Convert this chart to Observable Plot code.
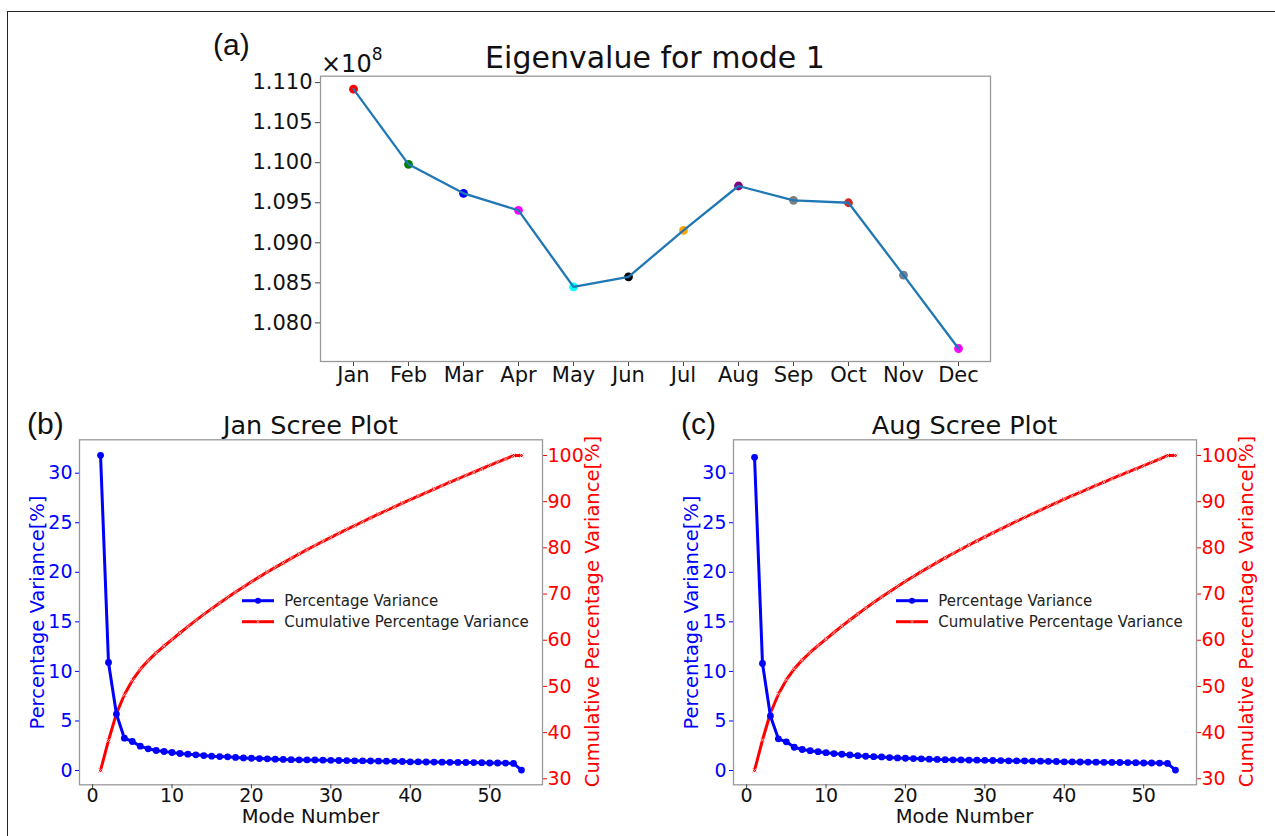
<!DOCTYPE html>
<html><head><meta charset="utf-8">
<script src="https://cdn.jsdelivr.net/npm/d3@7"></script>
<script src="https://cdn.jsdelivr.net/npm/@observablehq/plot@0.6"></script>
<style>
html,body{margin:0;padding:0;background:#fff;overflow:hidden;}
#root{position:relative;width:1275px;height:836px;overflow:hidden;background:#fff;font-family:"DejaVu Sans",sans-serif;}
#border{position:absolute;left:7px;top:11px;width:1400px;height:1000px;border:1.5px solid #222;box-sizing:border-box;}
</style></head><body><div id="root"><div id="border"></div></div>
<script>
// ---------------- data ----------------
const months = ["Jan","Feb","Mar","Apr","May","Jun","Jul","Aug","Sep","Oct","Nov","Dec"];
const eigenvalues = [1.10918e8,1.09980e8,1.09618e8,1.09405e8,1.08450e8,1.08575e8,1.09155e8,1.09709e8,1.09530e8,1.09500e8,1.08596e8,1.07680e8];
const monthColors = ["red","green","blue","magenta","cyan","black","orange","purple","gray","#d62728","slategray","magenta"];
const eigenTicks = [1.080e8,1.085e8,1.090e8,1.095e8,1.100e8,1.105e8,1.110e8];

const modes = [1,2,3,4,5,6,7,8,9,10,11,12,13,14,15,16,17,18,19,20,21,22,23,24,25,26,27,28,29,30,31,32,33,34,35,36,37,38,39,40,41,42,43,44,45,46,47,48,49,50,51,52,53,54];
const janPct = [31.8,10.9,5.7,3.26,2.93,2.46,2.19,2.02,1.92,1.82,1.72,1.65,1.58,1.51,1.45,1.41,1.38,1.32,1.27,1.24,1.21,1.18,1.15,1.12,1.10,1.08,1.07,1.06,1.04,1.03,1.01,1.00,0.98,0.97,0.96,0.95,0.94,0.93,0.91,0.88,0.87,0.86,0.85,0.84,0.83,0.82,0.81,0.80,0.79,0.76,0.76,0.75,0.72,0.05];
const janCum = [31.8,38.3,44.1,48.2,51.3,53.7,55.6,57.25,58.75,60.15,61.57,62.95,64.29,65.59,66.85,68.07,69.26,70.42,71.55,72.65,73.72,74.76,75.77,76.76,77.73,78.68,79.61,80.52,81.41,82.28,83.14,83.99,84.83,85.66,86.48,87.29,88.09,88.88,89.67,90.45,91.22,91.98,92.74,93.49,94.23,94.96,95.69,96.41,97.13,97.84,98.55,99.25,100.0,100.0];
const augPct = [31.6,10.8,5.5,3.2,2.9,2.35,2.12,2.0,1.9,1.8,1.71,1.64,1.57,1.5,1.44,1.4,1.37,1.31,1.27,1.24,1.21,1.18,1.15,1.12,1.10,1.08,1.07,1.05,1.04,1.02,1.01,1.00,0.98,0.97,0.96,0.95,0.94,0.93,0.91,0.88,0.87,0.86,0.85,0.84,0.83,0.82,0.81,0.80,0.79,0.76,0.76,0.75,0.72,0.05];
const augCum = [31.8,38.4,44.2,48.3,51.4,53.8,55.7,57.35,58.85,60.25,61.67,63.05,64.39,65.69,66.95,68.17,69.36,70.52,71.65,72.75,73.82,74.86,75.87,76.86,77.83,78.78,79.71,80.62,81.51,82.38,83.24,84.09,84.93,85.76,86.58,87.39,88.19,88.98,89.76,90.53,91.29,92.04,92.79,93.53,94.26,94.98,95.70,96.41,97.12,97.82,98.52,99.22,100.0,100.0];
const modeTicks = [0,10,20,30,40,50];
const pctTicks = [0,5,10,15,20,25,30];
const cumTicks = [30,40,50,60,70,80,90,100];

const FONT = "DejaVu Sans";
const root = document.getElementById("root");
function place(el, left, topPx) {
  el.style.position = "absolute";
  el.style.left = left + "px";
  el.style.top = topPx + "px";
  root.appendChild(el);
}

// ---------------- (a) eigenvalues ----------------
const eigenData = months.map((m, i) => ({month: m, value: eigenvalues[i], color: monthColors[i]}));
const eigenChart = Plot.plot({
  width: 820, height: 360,
  marginLeft: 120, marginRight: 30, marginTop: 35.7, marginBottom: 39,
  style: {fontFamily: FONT, fontSize: "21px", color: "#111", background: "transparent", overflow: "visible"},
  x: {type: "point", domain: months, padding: 0.541},
  y: {domain: [1.07518e8, 1.1108e8]},
  color: {type: "identity"},
  marks: [
    Plot.axisY({ticks: eigenTicks, tickFormat: d => (d / 1e8).toFixed(3), tickSize: 5, tickPadding: 3, fontSize: 21, label: null, stroke: "#444"}),
    Plot.axisX({tickSize: 5, tickPadding: 1, fontSize: 21, label: null, stroke: "#444"}),
    Plot.frame({stroke: "#999", strokeWidth: 1.3}),
    Plot.dot(eigenData, {x: "month", y: "value", fill: "color", r: 4.4}),
    Plot.line(eigenData, {x: "month", y: "value", stroke: "#1f77b4", strokeWidth: 2.3})
  ]
});
place(eigenChart, 200, 40);

// ---------------- scree plots ----------------
function scree(offsetX, pct, cum) {
  const W = 640, H = 406;
  const common = {
    width: W, height: H,
    marginLeft: 79, marginRight: 98, marginTop: 9.3, marginBottom: 51.7,
    style: {fontFamily: FONT, fontSize: "19px", color: "#111", background: "transparent", overflow: "visible"}
  };
  const pctData = modes.map((m, i) => ({mode: m, v: pct[i]}));
  const cumData = modes.map((m, i) => ({mode: m, v: cum[i]}));
  const red = Plot.plot({
    ...common,
    x: {domain: [-1.65, 56.65], axis: null},
    y: {domain: [28.7, 103.4]},
    marks: [
      Plot.axisY({anchor: "right", ticks: cumTicks, tickSize: 4, tickPadding: 1, fontSize: 19, label: null, fill: "red", stroke: "red"}),
      Plot.line(cumData, {x: "mode", y: "v", stroke: "red", strokeWidth: 3}),
      Plot.dot(cumData, {x: "mode", y: "v", symbol: "times", r: 2.2, stroke: "#ff9a9a", strokeWidth: 1})
    ]
  });
  const blue = Plot.plot({
    ...common,
    x: {domain: [-1.65, 56.65]},
    y: {domain: [-1.44, 33.37]},
    marks: [
      Plot.frame({stroke: "#999", strokeWidth: 1.3}),
      Plot.axisX({ticks: modeTicks, tickSize: 4, tickPadding: 0, fontSize: 19, label: null, stroke: "#444"}),
      Plot.axisY({ticks: pctTicks, tickSize: 4, tickPadding: 3, fontSize: 19, label: null, fill: "blue", stroke: "blue"}),
      Plot.line(pctData, {x: "mode", y: "v", stroke: "blue", strokeWidth: 3}),
      Plot.dot(pctData, {x: "mode", y: "v", fill: "blue", r: 3.4})
    ]
  });
  place(red, offsetX, 430);
  place(blue, offsetX, 430);
}
scree(0, janPct, janCum);
scree(654, augPct, augCum);

// ---------------- text overlay ----------------
const svg = d3.select(root).append("svg")
  .attr("width", 1275).attr("height", 836)
  .style("position", "absolute").style("left", "0px").style("top", "0px")
  .style("overflow", "visible").style("pointer-events", "none");

function txt(x, y, s, size, opts = {}) {
  const t = svg.append("text").attr("x", x).attr("y", y)
    .attr("font-family", opts.family || FONT).attr("font-size", size)
    .attr("fill", opts.fill || "#111").attr("text-anchor", opts.anchor || "middle")
    .text(s);
  if (opts.rotate) t.attr("transform", `rotate(-90 ${x} ${y})`).attr("dominant-baseline", "central");
  return t;
}

// (a)
txt(213, 55, "(a)", 30, {family: "Liberation Sans", anchor: "start"});
txt(655, 68.3, "Eigenvalue for mode 1", 30);
const ex = svg.append("text").attr("x", 321).attr("y", 72).attr("font-family", FONT).attr("font-size", 24).attr("fill", "#111");
ex.append("tspan").text("\u00d710");
ex.append("tspan").attr("dy", -12).attr("font-size", 17).text("8");

// scree labels
[[0, "(b)", "Jan Scree Plot"], [654, "(c)", "Aug Scree Plot"]].forEach(([dx, tag, title]) => {
  txt(27 + dx, 434, tag, 30, {family: "Liberation Sans", anchor: "start"});
  txt(310.5 + dx, 433.5, title, 25.5);
  txt(310.5 + dx, 823, "Mode Number", 19.5);
  txt(37.5 + dx, 612.5, "Percentage Variance[%]", 19.5, {rotate: true, fill: "blue"});
  txt(592.7 + dx, 611.5, "Cumulative Percentage Variance[%]", 19.5, {rotate: true, fill: "red"});
  // legend
  const lx = 242 + dx;
  svg.append("line").attr("x1", lx).attr("x2", lx + 32).attr("y1", 600.7).attr("y2", 600.7).attr("stroke", "blue").attr("stroke-width", 3);
  svg.append("circle").attr("cx", lx + 16).attr("cy", 600.7).attr("r", 3).attr("fill", "blue");
  svg.append("line").attr("x1", lx).attr("x2", lx + 32).attr("y1", 621.7).attr("y2", 621.7).attr("stroke", "red").attr("stroke-width", 3);
  svg.append("path").attr("d", `M${lx+14},619.7L${lx+18},623.7M${lx+18},619.7L${lx+14},623.7`).attr("stroke", "#ff9a9a").attr("stroke-width", 1);
  txt(284.3 + dx, 606, "Percentage Variance", 15, {anchor: "start", fill: "#222"});
  txt(284.3 + dx, 627, "Cumulative Percentage Variance", 15, {anchor: "start", fill: "#222"});
});
</script>
</body></html>
